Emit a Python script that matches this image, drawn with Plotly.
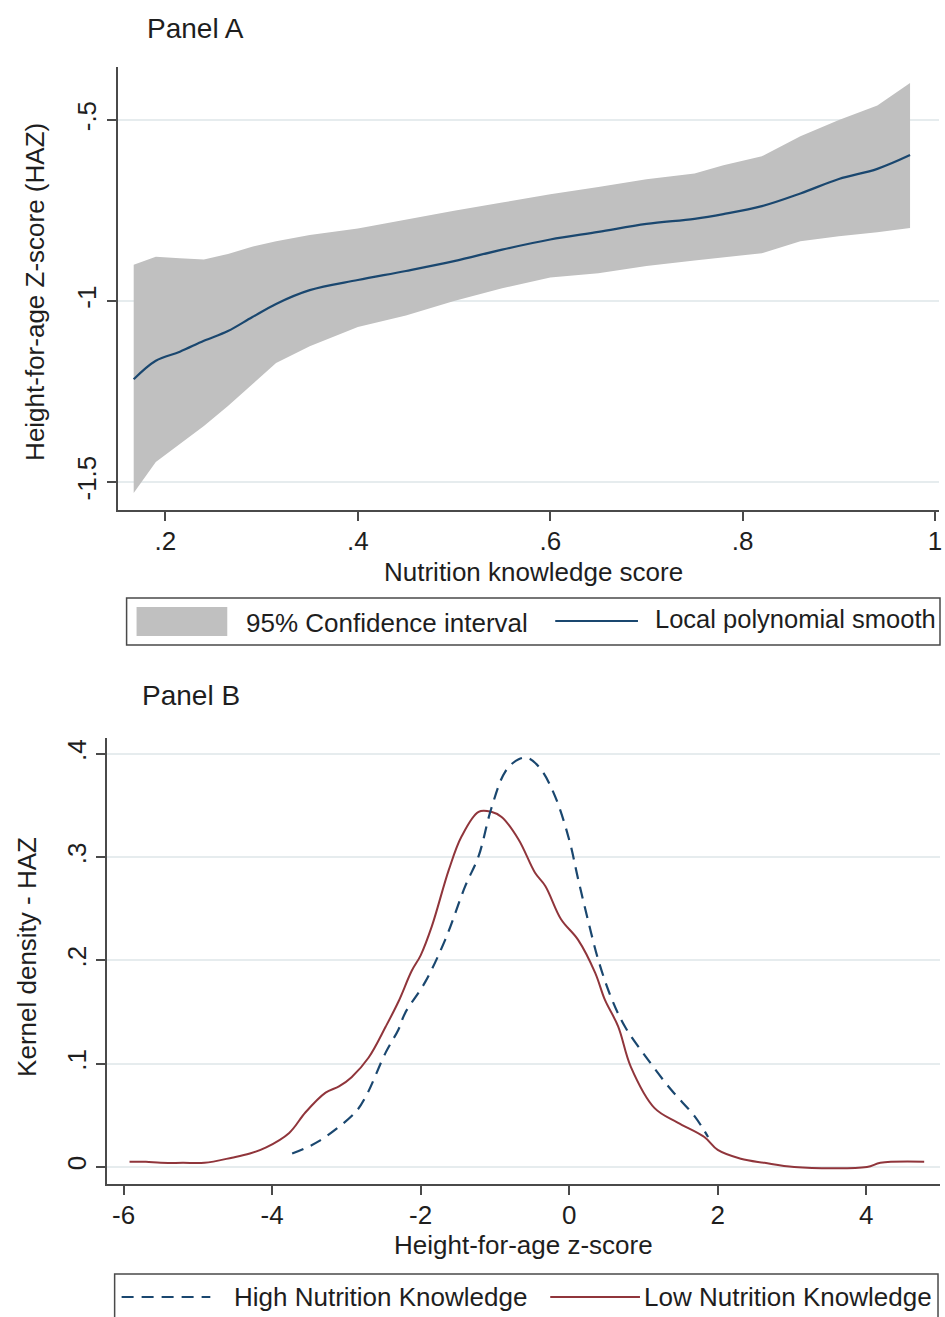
import plotly.graph_objects as go

# ---------------- Data ----------------
# Panel A: local polynomial smooth of HAZ on nutrition knowledge score
knowledge_score = [0.167, 0.19, 0.215, 0.24, 0.265, 0.29, 0.315, 0.35, 0.40, 0.45, 0.50,
                   0.55, 0.60, 0.65, 0.70, 0.75, 0.78, 0.82, 0.86, 0.90, 0.94, 0.974]
haz_smooth = [-1.216, -1.165, -1.140, -1.110, -1.083, -1.045, -1.008, -0.970, -0.942, -0.917, -0.890,
              -0.858, -0.830, -0.809, -0.787, -0.773, -0.760, -0.738, -0.703, -0.663, -0.635, -0.597]
ci_upper = [-0.900, -0.878, -0.882, -0.885, -0.870, -0.850, -0.835, -0.818, -0.800, -0.775, -0.751,
            -0.728, -0.705, -0.685, -0.664, -0.648, -0.625, -0.600, -0.545, -0.500, -0.460, -0.398]
ci_lower = [-1.530, -1.445, -1.395, -1.345, -1.290, -1.230, -1.171, -1.125, -1.072, -1.040, -1.000,
            -0.965, -0.935, -0.923, -0.903, -0.888, -0.880, -0.868, -0.835, -0.821, -0.810, -0.798]

# Panel B: kernel densities of HAZ
low_x = [-5.92, -5.70, -5.50, -5.20, -4.91, -4.54, -4.30, -4.08, -3.77, -3.55, -3.28, -3.10, -2.93,
         -2.70, -2.47, -2.30, -2.12, -2.00, -1.85, -1.62, -1.45, -1.22, -1.05, -0.91, -0.68, -0.46,
         -0.32, -0.11, 0.12, 0.35, 0.48, 0.66, 0.83, 1.15, 1.46, 1.82, 2.00, 2.31, 2.63, 3.03,
         4.01, 4.19, 4.78]
low_y = [0.005, 0.005, 0.004, 0.004, 0.004, 0.009, 0.013, 0.019, 0.033, 0.053, 0.072, 0.078, 0.087,
         0.106, 0.136, 0.160, 0.190, 0.205, 0.233, 0.288, 0.320, 0.344, 0.344, 0.339, 0.317, 0.285,
         0.272, 0.240, 0.220, 0.188, 0.162, 0.136, 0.097, 0.057, 0.043, 0.029, 0.0165, 0.008, 0.004, 0.0,
         0.0, 0.004, 0.005]
high_x = [-3.73, -3.37, -2.88, -2.74, -2.47, -2.30, -2.21, -1.94, -1.67, -1.40, -1.22, -1.05, -0.86,
          -0.68, -0.55, -0.38, -0.19, 0.0, 0.12, 0.25, 0.39, 0.56, 0.75, 1.06, 1.37, 1.69, 1.87]
high_y = [0.013, 0.025, 0.053, 0.068, 0.111, 0.133, 0.149, 0.179, 0.220, 0.272, 0.301, 0.347, 0.383,
          0.395, 0.396, 0.385, 0.359, 0.317, 0.279, 0.240, 0.201, 0.165, 0.136, 0.104, 0.075, 0.049, 0.029]

a_xticks = [0.2, 0.4, 0.6, 0.8, 1.0]
a_xticklabels = [".2", ".4", ".6", ".8", "1"]
a_yticks = [-0.5, -1.0, -1.5]
a_yticklabels = ["-.5", "-1", "-1.5"]
b_xticks = [-6, -4, -2, 0, 2, 4]
b_xticklabels = ["-6", "-4", "-2", "0", "2", "4"]
b_yticks = [0, 0.1, 0.2, 0.3, 0.4]
b_yticklabels = ["0", ".1", ".2", ".3", ".4"]

# ---------------- Style ----------------
W, H = 945, 1317
FONT = "Liberation Sans, Arial, sans-serif"
TXT = "#1e1e1e"
NAVY = "#1A476F"
MAROON = "#90353B"
BAND = "#C0C0C0"
GRID = "#E6ECEE"
AXIS = "#4a4a4a"
FS = 26


def px(x):
    return x / W


def py(y):
    return 1 - y / H


fig = go.Figure()

# Panel A
fig.add_trace(go.Scatter(x=knowledge_score, y=ci_lower, mode="lines", line=dict(width=0, color=BAND),
                         showlegend=False, xaxis="x", yaxis="y", hoverinfo="skip"))
fig.add_trace(go.Scatter(x=knowledge_score, y=ci_upper, mode="lines", line=dict(width=0, color=BAND),
                         fill="tonexty", fillcolor=BAND, showlegend=False, xaxis="x", yaxis="y"))
fig.add_trace(go.Scatter(x=knowledge_score, y=haz_smooth, mode="lines", line=dict(width=2.2, color=NAVY),
                         showlegend=False, xaxis="x", yaxis="y", line_shape="spline"))

# Panel B
fig.add_trace(go.Scatter(x=low_x, y=low_y, mode="lines", line=dict(width=2, color=MAROON),
                         showlegend=False, xaxis="x2", yaxis="y2", line_shape="spline"))
fig.add_trace(go.Scatter(x=high_x, y=high_y, mode="lines",
                         line=dict(width=2.2, color=NAVY, dash="12px,8px"),
                         showlegend=False, xaxis="x2", yaxis="y2", line_shape="spline"))

axis_common = dict(showline=True, linecolor=AXIS, linewidth=1.5, ticks="outside", ticklen=9,
                   tickwidth=1.5, tickcolor=AXIS, zeroline=False, mirror=False,
                   ticklabeloverflow="allow",
                   tickfont=dict(family=FONT, size=FS, color=TXT))

fig.update_layout(
    width=W, height=H, margin=dict(l=0, r=0, t=0, b=0),
    paper_bgcolor="white", plot_bgcolor="white", showlegend=False,
    xaxis=dict(domain=[px(118), px(942)], range=[0.1503, 1.0041], anchor="y",
               tickvals=a_xticks, ticktext=a_xticklabels, showgrid=False,
               ticklabelstandoff=-2, **axis_common),
    yaxis=dict(domain=[py(510), py(67)], range=[-1.5773, -0.3536], anchor="x",
               tickvals=a_yticks, ticktext=a_yticklabels, showgrid=True, gridcolor=GRID,
               gridwidth=1.5, tickangle=-90, ticklabelstandoff=0, **axis_common),
    xaxis2=dict(domain=[px(107), px(943)], range=[-6.228, 4.993], anchor="y2",
                tickvals=b_xticks, ticktext=b_xticklabels, showgrid=False,
                ticklabelstandoff=-2, **axis_common),
    yaxis2=dict(domain=[py(1184), py(738)], range=[-0.0165, 0.4155], anchor="x2",
                tickvals=b_yticks, ticktext=b_yticklabels, showgrid=True, gridcolor=GRID,
                gridwidth=1.5, tickangle=-90, ticklabelstandoff=0, **axis_common),
)

ann_font = dict(family=FONT, size=FS, color=TXT)
annotations = [
    dict(text="Panel A", x=px(145), y=py(28), xanchor="left", yanchor="middle",
         font=dict(family=FONT, size=28, color=TXT)),
    dict(text="Panel B", x=px(140), y=py(695), xanchor="left", yanchor="middle",
         font=dict(family=FONT, size=28, color=TXT)),
    dict(text="Nutrition knowledge score", x=px(535), y=py(572), xanchor="center", yanchor="middle",
         font=ann_font),
    dict(text="Height-for-age Z-score (HAZ)", x=px(35), y=py(292), xanchor="center", yanchor="middle",
         textangle=-90, font=ann_font),
    dict(text="Height-for-age z-score", x=px(525), y=py(1245), xanchor="center", yanchor="middle",
         font=ann_font),
    dict(text="Kernel density - HAZ", x=px(27), y=py(957), xanchor="center", yanchor="middle",
         textangle=-90, font=ann_font),
    # legends
    dict(text="95% Confidence interval", x=px(245), y=py(623), xanchor="left", yanchor="middle",
         font=ann_font),
    dict(text="Local polynomial smooth", x=px(655), y=py(619), xanchor="left", yanchor="middle",
         font=dict(family=FONT, size=25.5, color=TXT)),
    dict(text="High Nutrition Knowledge", x=px(233), y=py(1297), xanchor="left", yanchor="middle",
         font=ann_font),
    dict(text="Low Nutrition Knowledge", x=px(644), y=py(1297), xanchor="left", yanchor="middle",
         font=ann_font),
]
for a in annotations:
    a.update(xref="paper", yref="paper", showarrow=False)
fig.update_layout(annotations=annotations)

shapes = [
    # legend A box
    dict(type="rect", x0=px(127), x1=px(943), y0=py(645), y1=py(598),
         line=dict(color=AXIS, width=1.5), fillcolor="rgba(0,0,0,0)"),
    dict(type="rect", x0=px(137), x1=px(228), y0=py(636), y1=py(607),
         line=dict(width=0), fillcolor=BAND),
    dict(type="line", x0=px(557), x1=px(640), y0=py(621), y1=py(621),
         line=dict(color=NAVY, width=2.2)),
    # legend B box
    dict(type="rect", x0=px(115), x1=px(941), y0=py(1325), y1=py(1274),
         line=dict(color=AXIS, width=1.5), fillcolor="rgba(0,0,0,0)"),
    dict(type="line", x0=px(122), x1=px(211), y0=py(1297), y1=py(1297),
         line=dict(color=NAVY, width=2.2, dash="12px,8px")),
    dict(type="line", x0=px(552), x1=px(642), y0=py(1297), y1=py(1297),
         line=dict(color=MAROON, width=2)),
]
for s in shapes:
    s.update(xref="paper", yref="paper")
fig.update_layout(shapes=shapes)

fig.write_html("out.html")
